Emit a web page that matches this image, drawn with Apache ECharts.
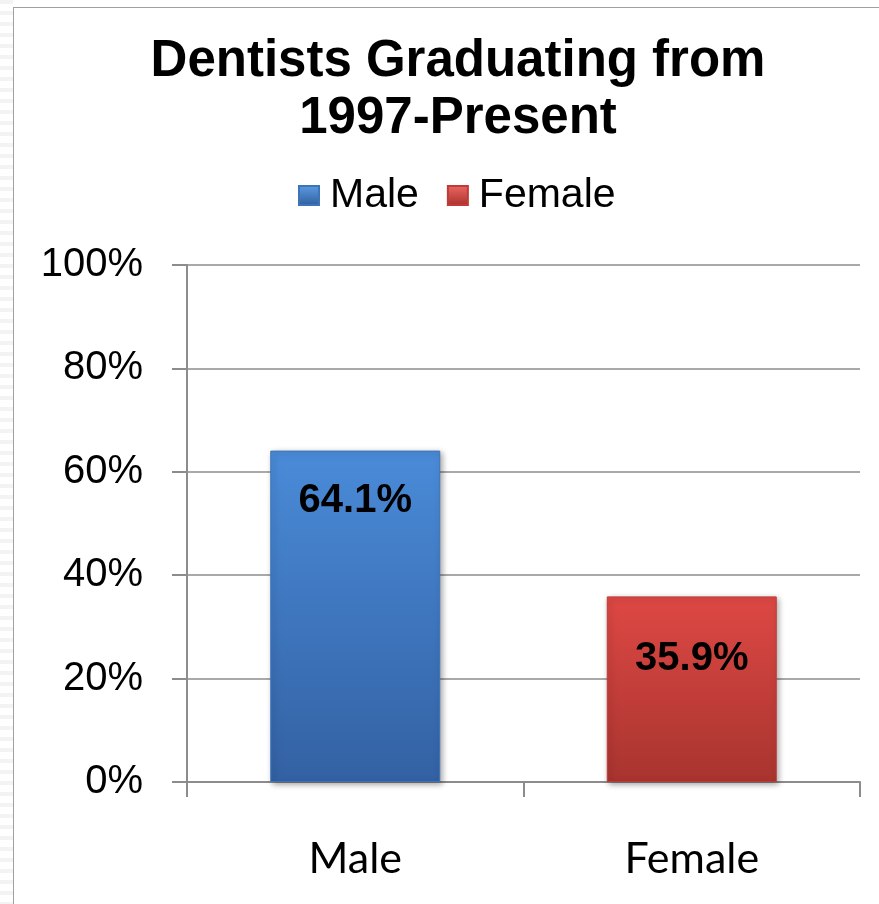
<!DOCTYPE html>
<html>
<head>
<meta charset="utf-8">
<script src="https://cdn.jsdelivr.net/npm/echarts@6/dist/echarts.min.js"></script>
<style>
html,body{margin:0;padding:0;background:#fff;width:879px;height:904px;overflow:hidden;}
#stripe{position:absolute;left:0;top:0;width:13px;height:904px;
 background:repeating-linear-gradient(to bottom,#f3f3f3 0px,#f3f3f3 4px,#ffffff 4px,#ffffff 11px);}
#frame{position:absolute;left:13px;top:7px;width:880px;height:910px;border-left:1px solid #a0a0a0;border-top:1px solid #a0a0a0;}
#chart{position:absolute;left:0;top:0;width:879px;height:904px;}
</style>
</head>
<body>
<div id="stripe"></div>
<div id="frame"></div>
<div id="chart"></div>
<script>
var titleText = 'Dentists Graduating from\n1997-Present';
var categories = ['Male', 'Female'];
var seriesNames = ['Male', 'Female'];
var maleValues = [64.1, '-'];
var femaleValues = ['-', 35.9];
var yTicks = [0, 20, 40, 60, 80, 100];

var chart = echarts.init(document.getElementById('chart'), null, {renderer: 'canvas'});
function grad(top, bottom) {
  return new echarts.graphic.LinearGradient(0, 0, 0, 1, [
    {offset: 0, color: top}, {offset: 1, color: bottom}
  ]);
}
function labelStyle(dist) {
  return {
    show: true, position: 'insideTop', distance: dist,
    fontFamily: 'Liberation Sans, Arial, sans-serif', fontWeight: 'bold', fontSize: 40, color: '#000',
    formatter: function (p) { return p.value.toFixed(1) + '%'; }
  };
}
chart.setOption({
  backgroundColor: 'transparent',
  animation: false,
  title: {
    text: titleText, left: 453, textAlign: 'center', top: 28,
    textStyle: {fontFamily: 'Liberation Sans, Arial, sans-serif', fontWeight: 'bold', fontSize: 51, lineHeight: 57, color: '#000'}
  },
  legend: {
    data: [
      {name: seriesNames[0], itemStyle: {color: grad('#5c9be3', '#2f5f9e')}},
      {name: seriesNames[1], itemStyle: {color: grad('#ec6863', '#a8302c')}}
    ],
    left: 293, top: 170, itemWidth: 20, itemHeight: 19, itemGap: 28,
    icon: 'rect',
    textStyle: {fontFamily: 'Liberation Sans, Arial, sans-serif', fontSize: 41, color: '#000', padding: [0, 0, 0, 6]}
  },
  grid: {left: 187, right: 19, top: 265, bottom: 122},
  xAxis: {
    type: 'category', data: categories,
    axisLine: {lineStyle: {color: '#8c8c8c', width: 2}},
    axisTick: {show: true, length: 15, lineStyle: {color: '#8c8c8c', width: 2}},
    axisLabel: {margin: 56, fontFamily: 'Liberation Sans Narrow, Lato, sans-serif', fontSize: 43, color: '#000'}
  },
  yAxis: {
    type: 'value', min: yTicks[0], max: yTicks[yTicks.length - 1], interval: 20,
    axisLine: {show: true, lineStyle: {color: '#8c8c8c', width: 2}},
    axisTick: {show: true, length: 15, lineStyle: {color: '#8c8c8c', width: 2}},
    splitLine: {lineStyle: {color: '#8c8c8c', width: 1.5}},
    axisLabel: {margin: 44, fontFamily: 'Liberation Sans, Arial, sans-serif', fontSize: 40, color: '#000',
      formatter: function (v) { return v + '%'; }}
  },
  series: [
    {
      name: seriesNames[0], type: 'bar', data: maleValues, barWidth: 170, barGap: '-100%',
      itemStyle: {color: grad('#4a8bd8', '#3361a3'), borderColor: '#3d73b9', borderWidth: 1,
        shadowColor: 'rgba(0,0,0,0.35)', shadowBlur: 6, shadowOffsetX: 2, shadowOffsetY: 2},
      label: labelStyle(30)
    },
    {
      name: seriesNames[1], type: 'bar', data: femaleValues, barWidth: 170,
      itemStyle: {color: grad('#de4844', '#a8342f'), borderColor: '#c03b37', borderWidth: 1,
        shadowColor: 'rgba(0,0,0,0.35)', shadowBlur: 6, shadowOffsetX: 2, shadowOffsetY: 2},
      label: labelStyle(43)
    }
  ]
});
</script>
</body>
</html>
